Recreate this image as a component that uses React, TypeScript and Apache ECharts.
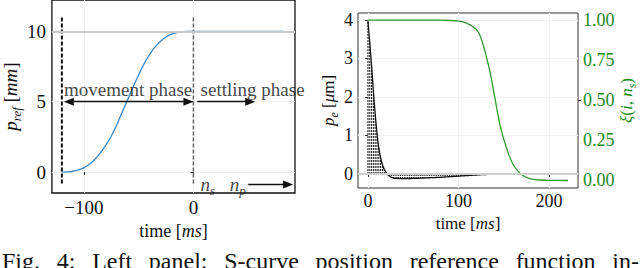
import React, { useEffect, useRef } from 'react';
import * as echarts from 'echarts';

// ---- Left panel: S-curve position reference ----
const sCurveT = [-120, -115, -110, -105, -100, -95, -90, -85, -80, -75, -70, -65, -60, -55, -50, -45, -40, -35, -30, -25, -20, -15, -10, -5, 0, 82];
const sCurveP = [0, 0.01, 0.06, 0.15, 0.3, 0.55, 0.9, 1.35, 1.9, 2.55, 3.35, 4.25, 5.15, 6.05, 6.9, 7.7, 8.35, 8.9, 9.3, 9.6, 9.8, 9.92, 9.98, 10, 10, 10];
const leftXTicks = [-100, 0];
const leftYTicks = [0, 5, 10];
const refLevel = 10;
const phaseNames = ['movement phase', 'settling phase'];

// ---- Right panel: position error p_e and weighting xi ----
const peT = [0, 2, 4, 6, 8, 10, 12, 14, 16, 18, 20, 22, 24, 26, 28, 30, 32, 34, 36, 38, 40, 42, 44, 46, 48, 50, 52, 54, 56, 58, 60, 62, 64, 66, 68, 70, 72, 74, 76, 78, 80, 82, 84, 86, 88, 90, 92, 94, 96, 98, 100, 102, 104, 106, 108, 110, 112, 114, 116, 118, 120, 122, 124, 126, 128, 130, 132, 134, 136, 138, 140, 142, 144, 146, 148, 150, 160, 170, 180, 190, 200, 210, 221];
const peV = [3.97, 3.4, 2.8, 2.15, 1.55, 1.05, 0.68, 0.42, 0.24, 0.12, 0.04, -0.02, -0.06, -0.09, -0.105, -0.112, -0.116, -0.118, -0.12, -0.12, -0.12, -0.12, -0.119, -0.118, -0.117, -0.116, -0.114, -0.112, -0.11, -0.108, -0.106, -0.104, -0.102, -0.1, -0.098, -0.096, -0.094, -0.092, -0.09, -0.088, -0.086, -0.083, -0.08, -0.077, -0.074, -0.071, -0.068, -0.065, -0.062, -0.059, -0.056, -0.053, -0.05, -0.047, -0.044, -0.041, -0.038, -0.035, -0.032, -0.029, -0.026, -0.023, -0.02, -0.018, -0.016, -0.014, -0.012, -0.01, -0.008, -0.006, -0.004, -0.002, 0, 0.002, 0.003, 0.004, 0.006, 0.008, 0.009, 0.01, 0.01, 0.01, 0.01];
const xiT = [0, 20, 40, 60, 80, 90, 100, 105, 110, 116, 120, 124, 129, 135, 140, 146, 153, 160, 165, 170, 175, 180, 185, 190, 200, 221];
const xiV = [1, 1, 1, 1, 0.999, 0.997, 0.993, 0.988, 0.978, 0.958, 0.938, 0.9, 0.81, 0.67, 0.52, 0.34, 0.2, 0.1, 0.06, 0.033, 0.016, 0.007, 0.002, 0, -0.002, -0.003];
const rightXTicks = [0, 100, 200];
const peTicks = [0, 1, 2, 3, 4];
const xiTicks = [0, 0.25, 0.5, 0.75, 1];
const xiTickMarks = [0.5];

const captionWords = ['Fig.', '4:', 'Left', 'panel:', 'S-curve', 'position', 'reference', 'function', 'in-'];

const serif = 'Liberation Serif, Times New Roman, Times, DejaVu Serif, serif';
const green = '#2f9a2f';
const greenText = '#1b8a1b';
const captionFontSize = 24;

const pairs = (xs: number[], ys: number[]) => xs.map((x, i) => [x, ys[i]]);
const minusFmt = (v: number) => (v < 0 ? '\u2212' + Math.abs(v) : String(v));

function justifiedWords(words: string[], font: string, x0: number, x1: number) {
  const ctx = document.createElement('canvas').getContext('2d') as CanvasRenderingContext2D;
  ctx.font = font;
  const widths = words.map((w) => ctx.measureText(w).width);
  const total = widths.reduce((a, b) => a + b, 0);
  const gap = Math.max(4, (x1 - x0 - total) / (words.length - 1));
  const xs: number[] = [];
  let x = x0;
  widths.forEach((w) => {
    xs.push(x);
    x += w + gap;
  });
  return xs;
}

export default function App() {
  const ref = useRef<HTMLDivElement>(null);
  useEffect(() => {
    if (!ref.current) return;
    const chart = echarts.init(ref.current, null, { renderer: 'svg' });
    const rich = (size: number, color: string) => ({
      i: { fontStyle: 'italic', fontFamily: serif, fontSize: size, color },
      sub: { fontStyle: 'italic', fontFamily: serif, fontSize: Math.round(size * 0.68), color, verticalAlign: 'bottom', padding: [0, 0, -3, 0] },
    });
    const hatchData = pairs(peT, peV).filter((d) => d[0] <= 150);
    const capFont = `${captionFontSize}px ${serif}`;
    const capXs = justifiedWords(captionWords, capFont, 2, 639);

    const option: any = {
      animation: false,
      backgroundColor: '#ffffff',
      textStyle: { fontFamily: serif },
      grid: [
        { left: 51, top: -10, width: 244, height: 203, show: true, borderColor: '#111', borderWidth: 1.3 },
        { left: 358, top: 13, width: 220, height: 175, show: true, borderColor: '#333', borderWidth: 1 },
      ],
      xAxis: [
        {
          gridIndex: 0, type: 'value', min: -129.1, max: 92.7, splitNumber: 4,
          axisLine: { show: false },
          axisTick: { show: true, length: 3, customValues: leftXTicks, lineStyle: { color: '#222' } },
          axisLabel: { customValues: leftXTicks, formatter: minusFmt, fontFamily: serif, fontSize: 19, color: '#111', margin: 5 },
          splitLine: { show: true, lineStyle: { color: '#f2f2f2' } },
          name: 'time [{i|ms}]', nameLocation: 'middle', nameGap: 24,
          nameTextStyle: { fontFamily: serif, fontSize: 18, color: '#111', rich: rich(18, '#111') },
        },
        {
          gridIndex: 1, type: 'value', min: -11, max: 232, splitNumber: 5,
          axisLine: { show: false },
          axisTick: { show: true, length: 3, customValues: rightXTicks, lineStyle: { color: '#333' } },
          axisLabel: { customValues: rightXTicks, fontFamily: serif, fontSize: 18, color: '#111', margin: 4 },
          splitLine: { show: true, lineStyle: { color: '#f2f2f2' } },
          name: 'time [{i|ms}]', nameLocation: 'middle', nameGap: 23,
          nameTextStyle: { fontFamily: serif, fontSize: 17, color: '#111', rich: rich(17, '#111') },
        },
      ],
      yAxis: [
        {
          gridIndex: 0, type: 'value', min: -1.486, max: 12.23, splitNumber: 3,
          axisLine: { show: false },
          axisTick: { show: true, length: 3, customValues: leftYTicks, lineStyle: { color: '#222' } },
          axisLabel: { customValues: leftYTicks, fontFamily: serif, fontSize: 19, color: '#111', margin: 6 },
          splitLine: { show: true, lineStyle: { color: '#f2f2f2' } },
          name: '{i|p}{sub|ref} [{i|mm}]', nameLocation: 'middle', nameGap: 31, nameRotate: 90,
          nameTextStyle: { fontFamily: serif, fontSize: 19, color: '#111', rich: rich(19, '#111') },
        },
        {
          gridIndex: 1, type: 'value', min: -0.364, max: 4.18, splitNumber: 5,
          axisLine: { show: false },
          axisTick: { show: true, length: 3, customValues: peTicks, lineStyle: { color: '#333' } },
          axisLabel: { customValues: peTicks, fontFamily: serif, fontSize: 18, color: '#111', margin: 5 },
          splitLine: { show: true, lineStyle: { color: '#f2f2f2' } },
          name: '{i|p}{sub|e} [{i|\u03bc}m]', nameLocation: 'middle', nameGap: 17, nameRotate: 90,
          nameTextStyle: { fontFamily: serif, fontSize: 17, color: '#111', rich: rich(17, '#111') },
        },
        {
          gridIndex: 1, type: 'value', position: 'right', min: -0.05, max: 1.044,
          axisLine: { show: false },
          axisTick: { show: true, length: 3, customValues: xiTickMarks, lineStyle: { color: '#333' } },
          axisLabel: { customValues: xiTicks, formatter: (v: number) => v.toFixed(2), fontFamily: serif, fontSize: 18, color: greenText, margin: 5 },
          splitLine: { show: false },
          name: '{i|\u03be}({i|i}, {i|n}{sub|s})', nameLocation: 'middle', nameGap: 36, nameRotate: 90,
          nameTextStyle: { fontFamily: serif, fontSize: 17, color: greenText, rich: rich(17, greenText) },
        },
      ],
      series: [
        {
          type: 'line', xAxisIndex: 0, yAxisIndex: 0, data: [[-120, refLevel]], showSymbol: false,
          lineStyle: { opacity: 0 }, z: 1, silent: true,
          markLine: { silent: true, symbol: 'none', label: { show: false }, lineStyle: { color: '#c8c8c8', width: 2, type: 'solid' }, data: [{ yAxis: refLevel }] },
        },
        {
          type: 'line', xAxisIndex: 0, yAxisIndex: 0, data: [[-120, -0.81], [-120, 11.08]], showSymbol: false, z: 2,
          lineStyle: { color: '#111', width: 2, type: [4, 2] },
        },
        {
          type: 'line', xAxisIndex: 0, yAxisIndex: 0, data: [[0, -0.81], [0, 11.08]], showSymbol: false, z: 2,
          lineStyle: { color: '#666', width: 1.5, type: [4, 2] },
        },
        {
          type: 'line', xAxisIndex: 0, yAxisIndex: 0, data: pairs(sCurveT, sCurveP), showSymbol: false, smooth: 0.3, z: 3,
          lineStyle: { color: '#3a88c9', width: 1.3 },
        },
        {
          type: 'line', xAxisIndex: 0, yAxisIndex: 0, data: [[-120, 5]], showSymbol: false, lineStyle: { opacity: 0 }, z: 4,
          markLine: {
            silent: true, symbol: ['triangle', 'triangle'], symbolSize: [8, 10], label: { show: false },
            lineStyle: { color: '#111', width: 1.3, type: 'solid' },
            data: [
              [{ coord: [-113.6, 5] }, { coord: [-4.5, 5] }],
              [{ coord: [3.6, 5], symbol: 'none' }, { coord: [51.8, 5] }],
              [{ coord: [50, -0.88], symbol: 'none' }, { coord: [86.4, -0.88] }],
            ],
          },
        },
        {
          type: 'scatter', xAxisIndex: 0, yAxisIndex: 0, symbolSize: 1, itemStyle: { color: 'rgba(0,0,0,0)' }, z: 5, silent: true,
          label: { show: true, position: 'inside', formatter: '{b}', fontFamily: serif, fontSize: 19, color: '#111', rich: rich(19, '#111') },
          data: [
            { name: phaseNames[0], value: [-59.5, 5.88] },
            { name: phaseNames[1], value: [54, 5.88] },
            { name: 'ns', value: [13, -0.85], label: { formatter: '{i|n}{sub|s}' } },
            { name: 'np', value: [40.5, -0.85], label: { formatter: '{i|n}{sub|p}' } },
          ],
        },
        {
          type: 'line', xAxisIndex: 1, yAxisIndex: 1, data: [[0, 0]], showSymbol: false, lineStyle: { opacity: 0 }, z: 1, silent: true,
          markLine: { silent: true, symbol: 'none', label: { show: false }, lineStyle: { color: '#cfcfcf', width: 2, type: 'solid' }, data: [{ yAxis: 0 }] },
        },
        {
          type: 'custom', xAxisIndex: 1, yAxisIndex: 1, data: hatchData, z: 2, silent: true,
          renderItem: (params: any, api: any) => {
            const t = api.value(0);
            const v = api.value(1);
            const p0 = api.coord([t, 0]);
            const p1 = api.coord([t, v]);
            return {
              type: 'line',
              shape: { x1: p0[0], y1: p0[1], x2: p1[0], y2: p1[1] },
              style: { stroke: '#111', lineWidth: 1, lineDash: [2, 1] },
            };
          },
        },
        {
          type: 'line', xAxisIndex: 1, yAxisIndex: 1, data: pairs(peT, peV), showSymbol: false, smooth: 0.2, z: 3,
          lineStyle: { color: '#111', width: 1.3 },
        },
        {
          type: 'line', xAxisIndex: 1, yAxisIndex: 2, data: pairs(xiT, xiV), showSymbol: false, smooth: 0.3, z: 4,
          lineStyle: { color: green, width: 1.3 },
        },
      ],
      graphic: captionWords.map((w, i) => ({
        type: 'text', x: capXs[i], y: 260.5, silent: true,
        style: { text: w, font: capFont, fill: '#111', verticalAlign: 'middle', align: 'left' },
      })),
    };
    chart.setOption(option);
    return () => chart.dispose();
  }, []);
  return <div ref={ref} style={{ position: 'fixed', left: 0, top: 0, width: 640, height: 268, background: '#fff' }} />;
}
